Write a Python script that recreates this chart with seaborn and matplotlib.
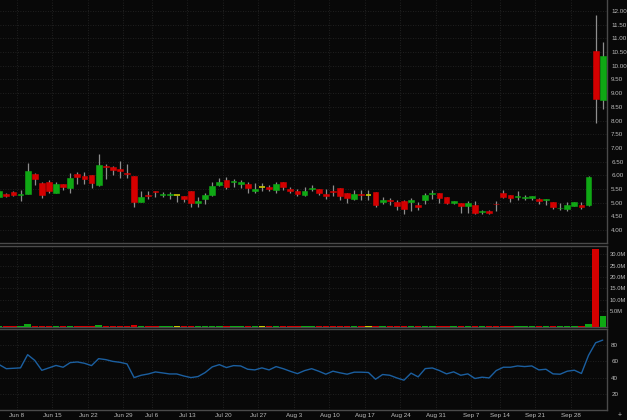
import numpy as np
import pandas as pd
import seaborn as sns
import matplotlib.pyplot as plt

#%% Data (Jun 3 - Oct 2 2020, trading days only)
dates = pd.bdate_range("2020-06-03", "2020-10-02")
dates = dates[~dates.isin(pd.to_datetime(["2020-07-03", "2020-09-07"]))]

opens = [5.22, 5.31, 5.39, 5.30, 5.33, 6.05, 5.72, 5.76, 5.36, 5.69,
         5.55, 6.06, 5.96, 6.03, 5.66, 6.35, 6.29, 6.23, 6.10, 5.99,
         5.04, 5.30, 5.43, 5.28, 5.27, 5.27, 5.24, 5.41, 4.98, 5.13,
         5.28, 5.65, 5.83, 5.74, 5.70, 5.70, 5.43, 5.58, 5.58, 5.47,
         5.75, 5.49, 5.41, 5.28, 5.50, 5.50, 5.33, 5.42, 5.54, 5.37,
         5.14, 5.32, 5.27, 5.38, 5.04, 5.11, 5.04, 5.08, 5.04, 4.91,
         5.10, 5.31, 5.35, 5.20, 5.00, 5.00, 4.88, 4.92, 4.65, 4.69,
         4.97, 5.37, 5.28, 5.20, 5.16, 5.19, 5.13, 5.10, 5.04, 4.79,
         4.77, 4.88, 4.92, 4.92, 10.54, 8.75]
highs = [5.48, 5.37, 5.44, 5.47, 6.46, 6.07, 5.77, 5.83, 5.75, 5.69,
         6.08, 6.11, 6.11, 6.03, 6.77, 6.42, 6.35, 6.52, 6.43, 5.99,
         5.41, 5.41, 5.43, 5.38, 5.39, 5.28, 5.24, 5.41, 5.22, 5.37,
         5.76, 5.89, 5.93, 5.86, 5.83, 5.77, 5.71, 5.71, 5.65, 5.75,
         5.76, 5.56, 5.49, 5.59, 5.65, 5.50, 5.49, 5.65, 5.54, 5.37,
         5.47, 5.47, 5.47, 5.38, 5.20, 5.19, 5.10, 5.10, 5.16, 5.04,
         5.37, 5.47, 5.35, 5.20, 5.08, 5.00, 5.07, 5.08, 4.74, 4.74,
         5.06, 5.47, 5.28, 5.44, 5.28, 5.25, 5.16, 5.14, 5.04, 4.98,
         5.02, 5.04, 5.04, 5.98, 11.85, 10.86]
lows = [5.20, 5.20, 5.25, 5.08, 5.33, 5.66, 5.19, 5.37, 5.35, 5.47,
        5.37, 5.67, 5.70, 5.55, 5.62, 5.86, 6.00, 5.89, 5.90, 4.83,
        5.04, 5.13, 5.22, 5.20, 5.15, 5.04, 5.02, 4.86, 4.83, 4.95,
        5.25, 5.62, 5.49, 5.59, 5.53, 5.37, 5.35, 5.41, 5.41, 5.35,
        5.47, 5.35, 5.26, 5.26, 5.44, 5.28, 5.14, 5.26, 5.10, 5.00,
        5.10, 5.10, 5.10, 4.86, 4.94, 4.93, 4.74, 4.58, 4.70, 4.74,
        4.96, 5.13, 5.00, 4.96, 4.94, 4.61, 4.61, 4.59, 4.59, 4.59,
        4.68, 5.16, 5.04, 5.10, 5.10, 5.10, 4.94, 4.90, 4.76, 4.74,
        4.68, 4.88, 4.77, 4.88, 7.90, 8.42]
closes = [5.44, 5.26, 5.30, 5.33, 6.17, 5.87, 5.30, 5.42, 5.69, 5.58,
          5.90, 5.95, 5.88, 5.72, 6.38, 6.31, 6.20, 6.16, 6.06, 5.04,
          5.20, 5.26, 5.39, 5.32, 5.32, 5.27, 5.13, 5.00, 5.08, 5.28,
          5.62, 5.77, 5.59, 5.79, 5.74, 5.53, 5.49, 5.58, 5.49, 5.67,
          5.56, 5.44, 5.33, 5.44, 5.55, 5.35, 5.26, 5.38, 5.26, 5.19,
          5.32, 5.28, 5.27, 4.92, 5.10, 5.06, 4.88, 4.76, 5.10, 4.85,
          5.28, 5.35, 5.19, 5.00, 5.08, 4.89, 4.98, 4.64, 4.71, 4.64,
          4.94, 5.20, 5.19, 5.25, 5.22, 5.25, 5.08, 5.14, 4.86, 4.82,
          4.92, 5.04, 4.86, 5.93, 8.79, 10.37]
# volume in millions
volume = [0.3, 0.3, 0.3, 0.3, 1.2, 0.4, 0.4, 0.3, 0.3, 0.3,
          0.3, 0.3, 0.3, 0.3, 1.1, 0.5, 0.3, 0.3, 0.3, 1.1,
          0.4, 0.3, 0.3, 0.3, 0.3, 0.3, 0.3, 0.3, 0.3, 0.3,
          0.3, 0.3, 0.3, 0.3, 0.3, 0.3, 0.3, 0.3, 0.3, 0.3,
          0.3, 0.3, 0.3, 0.3, 0.3, 0.3, 0.3, 0.3, 0.3, 0.3,
          0.3, 0.3, 0.3, 0.4, 0.3, 0.3, 0.3, 0.4, 0.3, 0.3,
          0.3, 0.3, 0.3, 0.3, 0.3, 0.3, 0.3, 0.3, 0.3, 0.3,
          0.3, 0.3, 0.3, 0.3, 0.3, 0.3, 0.3, 0.3, 0.3, 0.3,
          0.3, 0.3, 0.3, 1.2, 34.2, 4.8]
rsi = [56, 51, 51.5, 52, 68.3, 61.3, 49, 52, 55, 52.8,
       58.5, 59.3, 57.7, 54.8, 63.4, 62.2, 60, 58.9, 56.9, 40,
       42.9, 44.5, 47, 45.8, 44.5, 44.5, 42, 40, 41.3, 46.2,
       53.2, 56, 52.4, 54.8, 54.4, 50.3, 49.5, 52, 49.5, 53.6,
       51, 47.8, 44.9, 48.6, 51, 47.9, 44.2, 47.9, 45.9, 44.2,
       46.7, 46.7, 46.3, 38, 43.8, 42.9, 39.6, 36.8, 45.5, 40.9,
       51.1, 51.9, 48.7, 44.6, 47.1, 42.9, 44.6, 38.9, 40.5, 39.6,
       48.7, 52.8, 52.8, 54.4, 53.6, 54.4, 49.5, 50.3, 44.6, 44.2,
       47.9, 49.1, 45.1, 67.5, 83, 86.3]

price_ticks = np.arange(4.0, 12.01, 0.5)
vol_ticks = [5, 10, 15, 20, 25, 30]
rsi_ticks = [20, 40, 60, 80]

#%% Frame
df = pd.DataFrame({"date": dates, "open": opens, "high": highs, "low": lows,
                   "close": closes, "volume": np.array(volume) * 1e6, "rsi": rsi})
df["i"] = np.arange(len(df))

RED, GREEN, YELLOW = "#d40000", "#0fa814", "#c8c800"
WICK = "#8e8e8e"
BG = "#080808"
GRID = "#282828"
SPINE = "#4a4a4a"
TXT = "#bdbdbd"

def candle_color(o, c):
    if abs(c - o) < 1e-9:
        return YELLOW
    return GREEN if c > o else RED

df["color"] = [candle_color(o, c) for o, c in zip(df.open, df.close)]

# week starts -> gridlines between Friday and Monday
wk_pos, wk_lab = [], []
for k in range(1, len(df)):
    if df.date[k].weekday() < df.date[k - 1].weekday():
        monday = df.date[k] - pd.Timedelta(days=df.date[k].weekday())
        wk_pos.append(k - 0.5)
        wk_lab.append(f"{monday:%b} {monday.day}")

#%% Plot
sns.set_style("dark", {"axes.facecolor": BG, "figure.facecolor": BG,
                       "grid.color": GRID, "axes.edgecolor": SPINE})
plt.rcParams["font.family"] = ["Liberation Sans", "DejaVu Sans"]

W, H = 627, 420
fig = plt.figure(figsize=(6.27, 4.2), dpi=100)
ax_p = fig.add_axes([0, 1 - 243 / H, 607 / W, 243 / H])
ax_v = fig.add_axes([0, 1 - 327 / H, 607 / W, 81 / H])
ax_r = fig.add_axes([0, 1 - 410 / H, 607 / W, 81 / H])

xlim = (0.11, 85.6)
width = 0.82

# candles
ax_p.vlines(df.i, df.low, df.high, color=WICK, linewidth=0.9, zorder=2)
body = df[df.color != YELLOW]
ax_p.bar(body.i, (body.close - body.open).abs(), bottom=np.minimum(body.open, body.close),
         width=width, color=body.color, edgecolor=body.color, linewidth=0.4, zorder=3)
doji = df[df.color == YELLOW]
ax_p.hlines(doji.close, doji.i - width / 2, doji.i + width / 2, color=YELLOW,
            linewidth=1.2, zorder=3)
ax_p.set_ylim(3.53, 12.40)
ax_p.set_yticks(price_ticks)
ax_p.set_yticklabels([f"{v:.2f}" for v in price_ticks])

# volume, drawn up from the panel floor
vfloor = -2.0e6
ax_v.bar(df.i, df.volume, bottom=vfloor, width=0.9, color=df.color, linewidth=0, zorder=3)
ax_v.set_ylim(vfloor, 33.7e6)
ax_v.set_yticks([v * 1e6 for v in vol_ticks])
ax_v.set_yticklabels([f"{v:.1f}M" for v in vol_ticks])

# indicator line
sns.lineplot(data=df, x="i", y="rsi", ax=ax_r, color="#1b5fa0", linewidth=1.0, zorder=3)
ax_r.set_ylim(0, 100)
ax_r.set_yticks(rsi_ticks)
ax_r.set_yticklabels([str(v) for v in rsi_ticks])

for ax in (ax_p, ax_v, ax_r):
    ax.set_xlim(*xlim)
    ax.set_xticks(wk_pos)
    ax.set_xlabel("")
    ax.set_ylabel("")
    ax.yaxis.tick_right()
    ax.tick_params(axis="both", length=0, labelsize=4.5, colors=TXT, pad=3)
    ax.grid(True, linestyle=(0, (1, 2)), color=GRID, linewidth=0.6)
    ax.spines["left"].set_visible(False)
    for s in ("right", "top", "bottom"):
        ax.spines[s].set_color(SPINE)
        ax.spines[s].set_linewidth(1.0)

ax_v.tick_params(axis="y", labelsize=4.2, pad=2)
ax_p.spines["top"].set_visible(False)
ax_p.set_xticklabels([])
ax_v.set_xticklabels([])
ax_r.set_xticklabels(wk_lab)
ax_r.tick_params(axis="x", pad=2)

fig.text(620 / W, 1 - 416 / H, "+", color=TXT, fontsize=5, ha="center", va="center")

fig.savefig("out.png", dpi=100, facecolor=BG)
